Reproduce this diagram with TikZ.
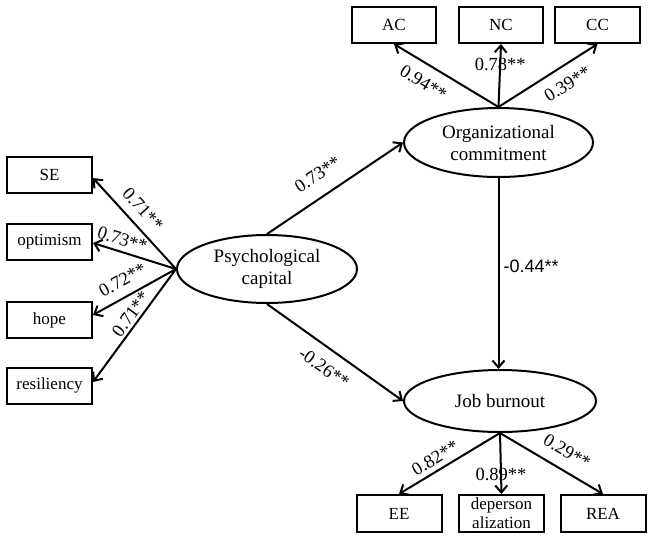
\documentclass[tikz,border=0pt]{standalone}
\usepackage{fontspec}
\setmainfont{Liberation Serif}
\newfontfamily\labsans{Liberation Sans}
\usetikzlibrary{shapes.geometric,arrows.meta}
\begin{document}
\begin{tikzpicture}[x=1pt,y=-1pt,
  box/.style={draw, line width=2pt, rectangle, minimum width=85pt, minimum height=36pt, inner sep=0pt, font=\fontsize{17}{19}\selectfont, align=center},
  lat/.style={draw, line width=2pt, ellipse, inner sep=0pt, font=\fontsize{19}{22}\selectfont, align=center},
  arr/.style={line width=2pt, -{Straight Barb[length=7pt,width=12pt]}},
  lab/.style={font=\fontsize{18.5}{20}\selectfont, inner sep=0pt},
]
\useasboundingbox (0,0) rectangle (653,539);

% latent variables
\node[lat, minimum width=180pt, minimum height=68pt] (psy) at (267,269) {Psychological\\capital};
\node[lat, minimum width=189pt, minimum height=69pt] (org) at (498.5,142.5) {Organizational\\commitment};
\node[lat, minimum width=192pt, minimum height=62pt] (job) at (500,401) {Job burnout};

% indicators
\node[box] (se)  at (49.5,175)   {SE};
\node[box] (opt) at (49.5,241.5) {optimism};
\node[box] (hop) at (49.5,320)   {hope};
\node[box] (res) at (49.5,385.5) {resiliency};

\node[box, minimum width=84pt] (ac) at (394,25)   {AC};
\node[box, minimum width=84pt] (nc) at (501,25)   {NC};
\node[box] (cc) at (597.5,25) {CC};

\node[box, minimum height=37pt] (ee)  at (399,513.5)   {EE};
\node[box, minimum height=37pt] (dep) at (501.5,513.5) {deperson\\alization};
\node[box, minimum height=37pt] (rea) at (603,513.5)   {REA};

% loadings of psychological capital
\draw[arr] (psy.west) -- ([yshift=-3pt]se.east)
  node[lab, sloped, pos=0.54, above=8.5pt] {0.71**};
\draw[arr] (psy.west) -- ([yshift=-1.5pt]opt.east)
  node[lab, sloped, pos=0.69, above=5pt] {0.73**};
\draw[arr] (psy.west) -- ([yshift=5pt]hop.east)
  node[lab, sloped, pos=0.55, above=9pt] {0.72**};
\draw[arr] (psy.west) -- ([yshift=3.5pt]res.east)
  node[lab, sloped, pos=0.45, above=2.5pt] {0.71**};

% loadings of organizational commitment
\draw[arr] (org.north) -- (ac.south)
  node[lab, sloped, pos=0.63, below=10.5pt] {0.94**};
\draw[arr] (org.north) -- (nc.south)
  node[lab, pos=0.68] {0.78**};
\draw[arr] (org.north) -- (cc.south)
  node[lab, sloped, pos=0.60, below=10.5pt] {0.39**};

% loadings of job burnout
\draw[arr] (job.south) -- (ee.north)
  node[lab, sloped, pos=0.58, above=5pt] {0.82**};
\draw[arr] (job.south) -- (dep.north)
  node[lab, pos=0.68] {0.89**};
\draw[arr] (job.south) -- (rea.north)
  node[lab, sloped, pos=0.56, above=11pt] {0.29**};

% structural paths
\draw[arr] (psy.north) -- (org.west)
  node[lab, sloped, pos=0.46, above=14pt] {0.73**};
\draw[arr] (psy.south) -- (job.west)
  node[lab, sloped, pos=0.50, below=11.5pt] {-0.26**};
\draw[arr] (org.south) -- (org.south |- job.north)
  node[lab, pos=0.46, right=4pt, font=\labsans\fontsize{18}{20}\selectfont] {-0.44**};
\end{tikzpicture}
\end{document}
